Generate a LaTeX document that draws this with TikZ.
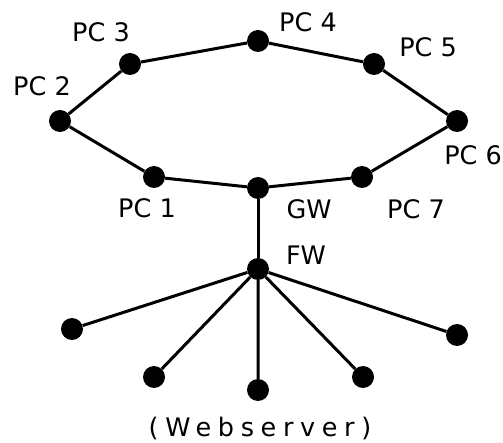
\documentclass[tikz,border=0pt]{standalone}
\usepackage{fontspec}
\setmainfont{DejaVu Sans}
\begin{document}
\begin{tikzpicture}[x=1pt,y=-1pt,
  host/.style={circle,fill,inner sep=0pt,minimum size=22pt},
  link/.style={line width=3pt},
  tag/.style={font=\fontsize{25.5}{30}\selectfont,inner sep=0pt}]
  \useasboundingbox (0,0) rectangle (503,443);
  % ring of PCs
  \node[host] (pc1) at (154,177) {};
  \node[host] (pc2) at (60,121) {};
  \node[host] (pc3) at (130,64) {};
  \node[host] (pc4) at (258,41) {};
  \node[host] (pc5) at (374,64) {};
  \node[host] (pc6) at (457,121) {};
  \node[host] (pc7) at (362,177) {};
  \node[host] (gw) at (258,188) {};
  % firewall and the hosts behind it
  \node[host] (fw) at (258,269) {};
  \node[host] (h1) at (72,329) {};
  \node[host] (h2) at (154,377) {};
  \node[host] (h3) at (258,390) {};
  \node[host] (h4) at (363,377) {};
  \node[host] (h5) at (457,335) {};
  % links
  \draw[link] (gw) -- (pc1) -- (pc2) -- (pc3) -- (pc4) -- (pc5) -- (pc6) -- (pc7) -- (gw);
  \draw[link] (gw) -- (fw);
  \draw[link] (fw) -- (h1) (fw) -- (h2) (fw) -- (h3) (fw) -- (h4) (fw) -- (h5);
  % names
  \node[tag] (lpc1) at (147,208) {PC 1};
  \node[tag] (lpc2) at (42,86) {PC 2};
  \node[tag] (lpc3) at (101,32) {PC 3};
  \node[tag] (lpc4) at (308,22) {PC 4};
  \node[tag] (lpc5) at (428,47) {PC 5};
  \node[tag] (lpc6) at (473,155) {PC 6};
  \node[tag] (lpc7) at (416,209) {PC 7};
  \node[tag] (lgw) at (309,209) {GW};
  \node[tag] (lfw) at (306,255) {FW};
  \node[tag] (lweb) at (260,428) {\addfontfeature{LetterSpace=26}(Webserver)};
\end{tikzpicture}
\end{document}
